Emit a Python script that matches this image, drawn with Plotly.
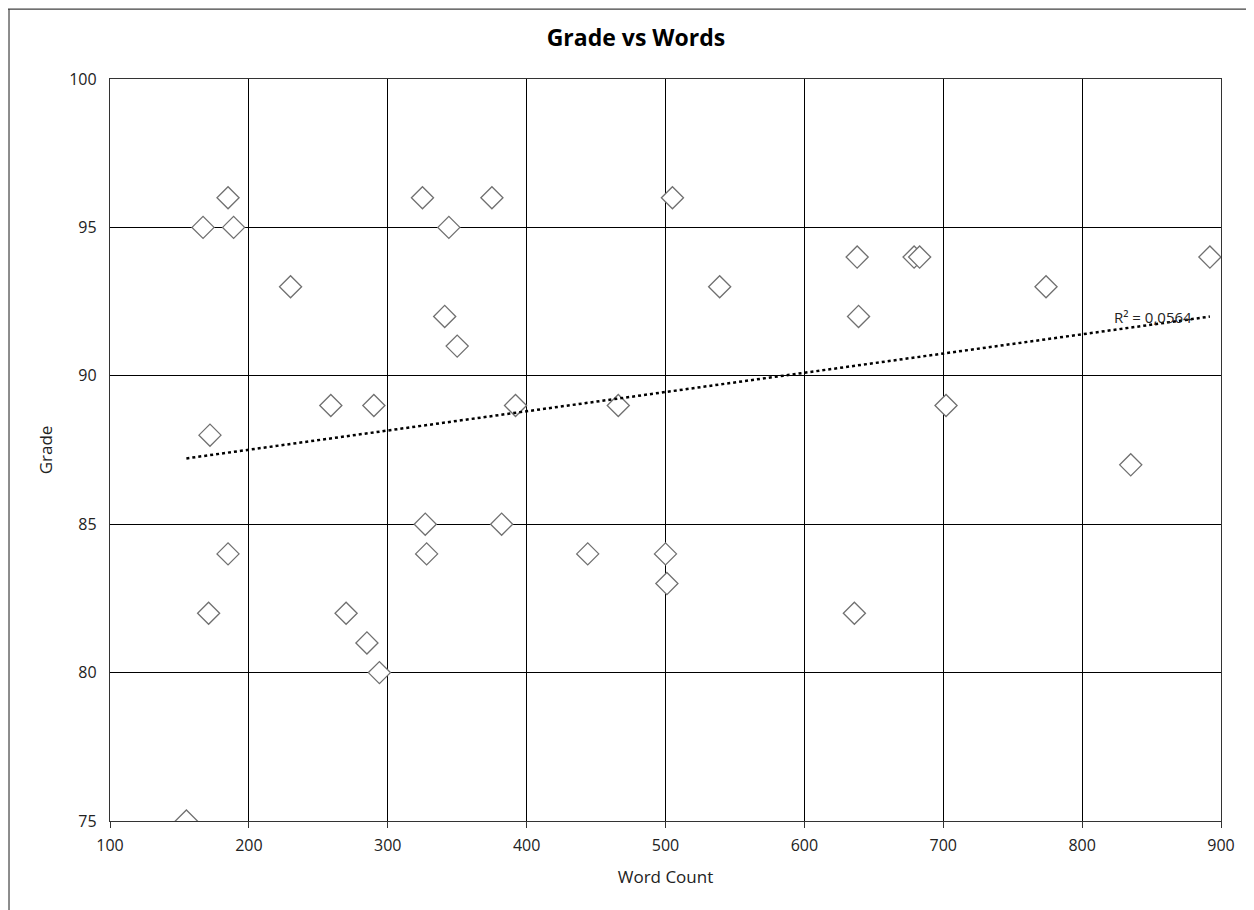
import numpy as np
import plotly.graph_objects as go

word_count = [155, 167, 185, 189, 230, 172, 185, 171, 259, 290, 270, 285, 294,
              325, 344, 341, 350, 327, 328, 375, 392, 382, 444, 466, 500, 501,
              505, 539, 638, 639, 636, 679, 683, 702, 774, 835, 892]
grade = [75, 95, 96, 95, 93, 88, 84, 82, 89, 89, 82, 81, 80,
         96, 95, 92, 91, 85, 84, 96, 89, 85, 84, 89, 84, 83,
         96, 93, 94, 92, 82, 94, 94, 89, 93, 87, 94]
x_ticks = [100, 200, 300, 400, 500, 600, 700, 800, 900]
y_ticks = [75, 80, 85, 90, 95, 100]
r2_label = "R² = 0,0564"

xs = np.array(word_count, dtype=float)
ys = np.array(grade, dtype=float)
slope, intercept = np.polyfit(xs, ys, 1)
tx = np.array([xs.min(), xs.max()])
ty = slope * tx + intercept

font_fam = "Open Sans, Noto Sans, sans-serif"

fig = go.Figure()
fig.add_trace(go.Scatter(
    x=word_count, y=grade, mode="markers",
    marker=dict(symbol="diamond", size=17, color="white",
                line=dict(color="#707070", width=1.3)),
    showlegend=False, hoverinfo="x+y"))
fig.add_trace(go.Scatter(
    x=tx, y=ty, mode="lines",
    line=dict(color="black", width=2.5, dash="dot"),
    showlegend=False, hoverinfo="skip"))
fig.add_annotation(x=tx[1], y=ty[1], xref="x", yref="y", text=r2_label,
                   showarrow=False, xanchor="right", yanchor="middle",
                   xshift=-16, yshift=0,
                   font=dict(size=15, color="#222", family=font_fam))

# outer chart border
fig.add_shape(type="line", xref="paper", yref="paper",
              x0=-0.0918, x1=1.05, y0=1.0943, y1=1.0943,
              line=dict(color="#404040", width=1.2))
fig.add_shape(type="line", xref="paper", yref="paper",
              x0=-0.0909, x1=-0.0909, y0=-0.2, y1=1.0943,
              line=dict(color="#404040", width=1.2))

fig.update_layout(
    width=1246, height=902,
    margin=dict(l=102, r=33, t=71, b=89),
    paper_bgcolor="white", plot_bgcolor="white",
    title=dict(text="<b>Grade vs Words</b>", x=0.504, xanchor="center",
               y=0.967, yanchor="middle",
               font=dict(size=23, color="black", family=font_fam)),
    font=dict(family=font_fam, color="#222"),
    xaxis=dict(range=[100, 900], tickvals=x_ticks, showgrid=True,
               gridcolor="black", gridwidth=1.4, zeroline=False,
               showline=True, linecolor="#333", linewidth=1.4, mirror=True,
               ticks="outside", ticklen=6, tickcolor="#333",
               ticklabelstandoff=4,
               tickfont=dict(size=16, color="#222"),
               title=dict(text="Word Count", font=dict(size=17, color="#222"),
                          standoff=15)),
    yaxis=dict(range=[75, 100], tickvals=y_ticks, showgrid=True,
               gridcolor="black", gridwidth=1.4, zeroline=False,
               showline=True, linecolor="#333", linewidth=1.4, mirror=True,
               ticks="", ticklabelstandoff=9,
               tickfont=dict(size=16, color="#222"),
               title=dict(text="Grade", font=dict(size=17, color="#222"),
                          standoff=12)),
)

fig.write_html("out.html")
